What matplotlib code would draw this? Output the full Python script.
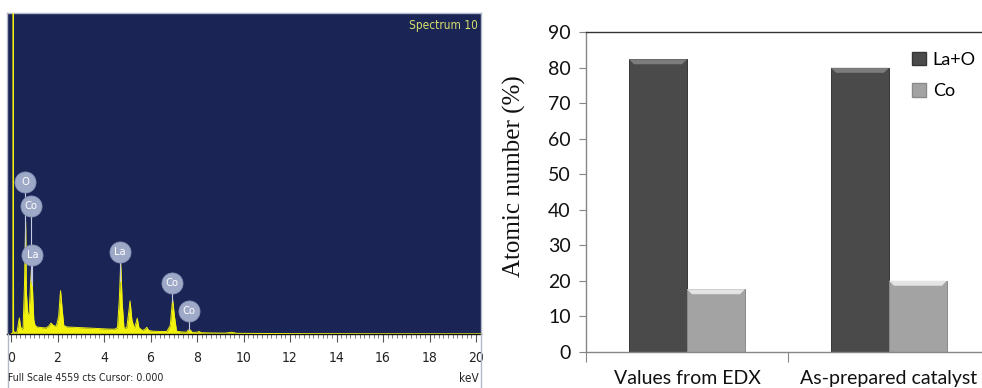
import numpy as np
import matplotlib
matplotlib.use("Agg")
import matplotlib.pyplot as plt
from matplotlib.patches import Polygon, Patch
from matplotlib.lines import Line2D

# ---------------- EDX spectrum ----------------
energy_kev = [0.00, 0.06, 0.08, 0.09, 0.10, 0.11, 0.16, 0.26, 0.32, 0.36, 0.40, 0.46,
              0.52, 0.58, 0.63, 0.66, 0.72, 0.78, 0.84, 0.89, 0.94, 0.98, 1.03, 1.10,
              1.30, 1.50, 1.62, 1.72, 1.82, 1.95, 2.05, 2.13, 2.20, 2.27, 2.40, 2.70,
              3.00, 3.30, 3.60, 3.90, 4.20, 4.45, 4.58, 4.66, 4.72, 4.78, 4.86, 4.98,
              5.06, 5.12, 5.20, 5.30, 5.38, 5.43, 5.50, 5.65, 5.78, 5.84, 5.92, 6.10,
              6.40, 6.70, 6.85, 6.95, 7.03, 7.12, 7.30, 7.55, 7.62, 7.72, 7.80, 8.00,
              8.09, 8.18, 8.60, 9.20, 9.50, 9.70, 10.50, 12.00, 16.00, 20.20]
counts = [0, 10, 30, 5000, 5000, 40, 20, 30, 150, 228, 120, 60,
          90, 700, 1596, 600, 274, 300, 700, 980, 500, 200, 128, 100,
          91, 85, 110, 155, 120, 110, 250, 615, 350, 120, 100, 95,
          90, 85, 80, 75, 70, 68, 90, 500, 1003, 450, 80, 90,
          300, 470, 200, 80, 160, 223, 90, 50, 70, 96, 50, 40,
          35, 35, 120, 492, 250, 40, 30, 25, 55, 55, 22, 25,
          36, 18, 15, 12, 25, 10, 8, 5, 3, 2]
full_scale_cts = 4559
cursor_kev = 0.000
spectrum_name = "Spectrum 10"
peak_labels = ["O", "Co", "La", "La", "Co", "Co"]
label_energy = [0.60, 0.85, 0.92, 4.69, 6.94, 7.67]
label_counts = [2160, 1820, 1120, 1170, 730, 330]
kev_ticks = [0, 2, 4, 6, 8, 10, 12, 14, 16, 18, 20]

# ---------------- Bar chart data ----------------
categories = ["Values from EDX", "As-prepared catalyst"]
series_names = ["La+O", "Co"]
la_o_pct = [82.4, 80.0]
co_pct = [17.6, 20.0]

W, H = 982, 388
fig = plt.figure(figsize=(W / 100, H / 100), dpi=100)
fig.patch.set_facecolor("white")

narrow = dict(family=["DejaVu Sans"], stretch="condensed")
calibri = ["Lato", "DejaVu Sans"]
yellow = "#f2f20c"
navy = "#1b2555"

# ================= left panel: EDX spectrum =================
ax1 = fig.add_axes([7 / W, 1 - 334 / H, 474 / W, 321 / H])
ax1.set_facecolor(navy)
ax1.fill_between(energy_kev, counts, 0, color=yellow, lw=0, zorder=2)
ax1.plot(energy_kev, counts, color=yellow, lw=0.7, zorder=3)
ax1.set_xlim(-4 / 23.25, 470 / 23.25)
ax1.set_ylim(0, full_scale_cts)
ax1.set_yticks([])
ax1.set_xticks(kev_ticks)
ax1.set_xticks(np.arange(0, 20.01, 0.2), minor=True)
ax1.tick_params(axis="x", which="major", length=6, width=0.8, color="#555555",
                pad=6, labelsize=10, labelcolor="#222222")
ax1.tick_params(axis="x", which="minor", length=3, width=0.6, color="#666666")
for lab in ax1.get_xticklabels():
    lab.set_family(narrow["family"])
    lab.set_stretch(narrow["stretch"])
for side in ["left", "right", "top"]:
    ax1.spines[side].set_color("#b4b8c8")
    ax1.spines[side].set_linewidth(1.0)
ax1.spines["bottom"].set_color("#111111")
ax1.spines["bottom"].set_linewidth(1.0)

# element badges
for lab, e, c in zip(peak_labels, label_energy, label_counts):
    base = np.interp(e, energy_kev, counts)
    ax1.plot([e, e], [base, c], color="#c3cae2", lw=0.8, zorder=4)
    ax1.scatter([e], [c], s=230, color="#9ea8c7", edgecolor="#8791b6",
                linewidth=0.6, zorder=5)
    ax1.text(e, c, lab, color="white", ha="center", va="center", fontsize=8,
             zorder=6, **narrow)

ax1.text(0.993, 0.962, spectrum_name, transform=ax1.transAxes, ha="right",
         va="center", color="#d6e06a", fontsize=8.5, **narrow)

# frame continuing below the plot
for xp in (7.5, 481):
    fig.add_artist(Line2D([xp / W, xp / W], [0, 1 - 334 / H], color="#b4b8c8", lw=1.0))

fig.text(8 / W, 1 - 378 / H,
         f"Full Scale {full_scale_cts} cts Cursor: {cursor_kev:.3f}",
         ha="left", va="center", fontsize=7.6, color="#222222", **narrow)
fig.text(479 / W, 1 - 378 / H, "keV", ha="right", va="center", fontsize=8.5,
         color="#222222", **narrow)

# ================= right panel: bar chart =================
ax2 = fig.add_axes([586 / W, 1 - 351.7 / H, 404 / W, 319.4 / H])
x = np.arange(len(categories))
bw = 0.287
dark, dark_edge, dark_bevel = "#4a4a4a", "#363636", "#7c7c7c"
light, light_edge, light_bevel = "#a3a3a3", "#8a8a8a", "#e4e4e4"
b1 = ax2.bar(x - bw / 2, la_o_pct, bw, color=dark, edgecolor=dark_edge, lw=0.7, zorder=2)
b2 = ax2.bar(x + bw / 2, co_pct, bw, color=light, edgecolor=light_edge, lw=0.7, zorder=2)
ax2.set_xlim(-0.5, len(categories) - 0.5)
ax2.set_ylim(0, 90)

# bevel on top of each bar (5 px deep)
dx = 5 / 202.0
dy = 5 / (319.4 / 90)
for bars, bev in ((b1, dark_bevel), (b2, light_bevel)):
    for r in bars:
        x0, wd, h = r.get_x(), r.get_width(), r.get_height()
        ax2.add_patch(Polygon([(x0, h), (x0 + wd, h), (x0 + wd - dx, h - dy), (x0 + dx, h - dy)],
                              closed=True, facecolor=bev, edgecolor="none", zorder=3))

ax2.set_yticks(np.arange(0, 91, 10))
ax2.tick_params(axis="y", length=5, width=0.8, color="#868686", labelsize=14,
                labelcolor="#111111", pad=6)
for lab in ax2.get_yticklabels():
    lab.set_family(calibri)
ax2.set_xticks(np.arange(-0.5, len(categories), 1.0))
ax2.set_xticklabels([])
ax2.tick_params(axis="x", which="major", length=7, width=0.8, color="#868686")
ax2.set_xticks(x, minor=True)
ax2.set_xticklabels(categories, minor=True)
ax2.tick_params(axis="x", which="minor", length=0, pad=13, labelsize=14,
                labelcolor="#111111")
for lab in ax2.get_xticklabels(minor=True):
    lab.set_family(calibri)
for side in ["left", "bottom", "right"]:
    ax2.spines[side].set_color("#868686")
    ax2.spines[side].set_linewidth(1.0)
ax2.spines["top"].set_color("#333333")
ax2.spines["top"].set_linewidth(1.0)

ax2.set_ylabel("Atomic number (%)", family=["Liberation Serif", "DejaVu Serif"],
               fontsize=18, color="#111111")
ax2.yaxis.set_label_coords(-0.148, 0.55)

handles = [Patch(facecolor=dark, edgecolor=dark_edge), Patch(facecolor=light, edgecolor=light_edge)]
leg = ax2.legend(handles, series_names, loc="upper left",
                 bbox_to_anchor=(912 / W, 1 - 52 / H), bbox_transform=fig.transFigure,
                 frameon=False, prop={"family": calibri, "size": 13},
                 handlelength=0.75, handleheight=0.75, handletextpad=0.4,
                 labelspacing=0.85, borderpad=0, borderaxespad=0)

fig.savefig("out.png", dpi=100, facecolor="white")
